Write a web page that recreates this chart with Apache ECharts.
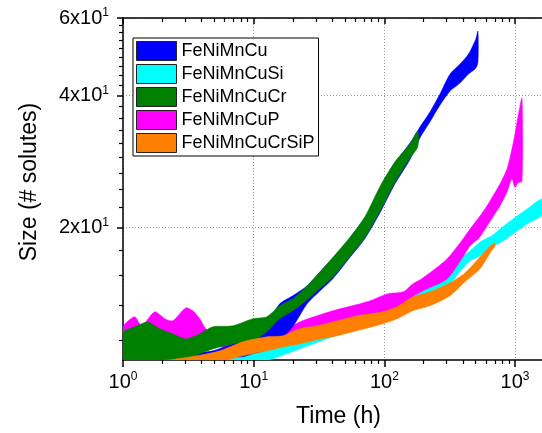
<!DOCTYPE html>
<html><head><meta charset="utf-8">
<script src="https://cdn.jsdelivr.net/npm/echarts@6/dist/echarts.min.js"></script>
<style>html,body{margin:0;padding:0;background:#fff}#c{width:542px;height:433px}</style>
</head><body><div id="c"></div>
<script>
// ---- data (time in h, size in # solutes; bands = lower/upper) ----
const legendNames = ['FeNiMnCu', 'FeNiMnCuSi', 'FeNiMnCuCr', 'FeNiMnCuP', 'FeNiMnCuCrSiP'];

const blueT  = [1, 1.55, 1.91, 2.40, 3.02, 3.87, 4.86, 6.92, 8.26, 9.84, 12.6, 15.8, 19.9, 25.5, 32.1, 40.3, 54.4, 71.0, 92.4, 120, 157, 187, 223, 266, 318, 379, 440, 500, 520];
const blueHi = [10.17, 10.27, 10.22, 10.0, 10.22, 10.38, 10.49, 10.88, 11.06, 11.29, 12.09, 13.42, 14.0, 14.74, 15.86, 17.07, 18.96, 21.05, 24.5, 28.07, 31.15, 33.88, 36.65, 40.27, 44.72, 47.12, 49.66, 53.7, 56.0];
const blueLo = [9.7, 9.7, 9.7, 9.7, 9.7, 9.9, 10.06, 10.17, 10.17, 10.33, 10.55, 11.06, 11.9, 13.4, 14.35, 15.3, 17.1, 18.9, 21.6, 25.1, 28.6, 32.0, 34.8, 38.0, 40.9, 42.66, 44.72, 46.1, 47.62];

const cyanT  = [5.5, 6.92, 9.84, 12.6, 22.5, 40.3, 71.0, 120, 165, 223, 318, 379, 452, 539, 677, 766, 964, 1233, 1607];
const cyanHi = [9.8, 10.17, 10.6, 10.88, 11.65, 12.4, 13.2, 13.9, 14.2, 14.8, 15.7, 17.0, 17.71, 18.56, 19.26, 19.87, 20.94, 22.06, 23.25];
const cyanLo = [9.6, 9.7, 9.8, 9.96, 10.6, 11.29, 12.09, 12.8, 13.5, 14.0, 14.9, 15.9, 16.81, 17.25, 18.18, 18.47, 19.36, 20.4, 21.38];

const greenT  = [1, 1.23, 1.55, 1.91, 2.40, 3.02, 3.87, 4.86, 6.92, 9.84, 12.6, 15.8, 19.9, 25.5, 32.1, 40.3, 54.4, 71.0, 92.4, 120, 157, 180];
const greenHi = [11.53, 11.90, 12.21, 11.78, 11.47, 11.17, 11.47, 11.90, 11.96, 12.41, 12.54, 13.28, 13.78, 14.7, 15.85, 17.1, 19.0, 21.2, 24.8, 28.2, 31.0, 33.17];
const greenLo = [9.7, 9.7, 9.7, 9.7, 9.7, 9.96, 10.33, 10.6, 10.88, 11.06, 11.59, 12.41, 12.94, 13.7, 14.55, 15.45, 17.2, 19.0, 21.8, 25.3, 28.8, 30.51];

const magentaT  = [1, 1.23, 1.39, 1.75, 2.09, 2.40, 3.02, 3.42, 3.87, 4.30, 4.86, 6.92, 9.84, 13.8, 17.3, 22.5, 40.3, 73.5, 105, 139, 165, 197, 301, 399, 452, 539, 609, 677, 766, 867, 946, 998, 1052, 1130];
const magentaHi = [11.9, 12.54, 11.96, 12.87, 12.41, 12.28, 13.14, 12.94, 12.41, 11.78, 11.53, 11.41, 11.17, 11.17, 11.65, 12.21, 12.94, 13.56, 14.14, 14.29, 14.9, 15.37, 16.98, 18.86, 19.87, 21.27, 22.41, 23.62, 25.15, 27.2, 30.2, 32.66, 35.7, 39.45];
const magentaLo = [11.0, 11.0, 11.0, 11.0, 11.0, 11.0, 11.0, 11.0, 11.0, 10.9, 10.8, 10.6, 10.55, 10.6, 10.88, 11.35, 11.9, 12.41, 12.87, 13.21, 13.92, 14.37, 15.29, 17.16, 18.18, 19.06, 20.18, 21.16, 22.41, 24.11, 25.82, 24.69, 25.28, 25.55];

const orangeT  = [1, 1.91, 3.87, 5.5, 8.26, 12.6, 16.7, 22.5, 30.4, 40.3, 61.5, 97.4, 125, 165, 223, 318, 413, 539, 643, 702];
const orangeHi = [9.95, 9.95, 10.25, 10.49, 11.0, 11.29, 11.35, 11.78, 11.96, 12.21, 12.6, 12.87, 13.21, 13.92, 14.29, 14.98, 15.78, 17.16, 18.18, 18.47];
const orangeLo = [9.7, 9.7, 9.8, 9.9, 10.22, 10.49, 10.71, 10.88, 11.12, 11.29, 11.65, 12.09, 12.41, 12.94, 13.28, 14.0, 15.06, 16.12, 17.52, 18.18];

// ---- axis ticks ----
const xMajorTicks = [1, 10, 100, 1000];
const xMinorTicks = [2, 3, 4, 5, 6, 7, 8, 9, 20, 30, 40, 50, 60, 70, 80, 90, 200, 300, 400, 500, 600, 700, 800, 900];
const yMajorTicks = [20, 40, 60];
const yMinorTicks = [11.11, 13.33, 15.56, 17.78, 22.22, 24.44, 26.67, 28.89, 31.11, 33.33, 35.56, 37.78, 42.22, 44.44, 46.67, 48.89, 51.11, 53.33, 55.56, 57.78];

const X_MIN = 1, X_MAX = 1607, Y_MIN = 10, Y_MAX = 60;
const FONT = "'Liberation Sans', Arial, sans-serif";
const BLACK = '#000';

function band(name, color, tArr, loArr, hiArr) {
  return {
    type: 'custom', name: name, coordinateSystem: 'cartesian2d',
    xAxisIndex: 0, yAxisIndex: 0, clip: true, silent: true,
    itemStyle: { color: color },
    data: [[tArr[0], hiArr[0]]],
    encode: { x: 0, y: 1 },
    renderItem: function (params, api) {
      const pts = [];
      for (let i = 0; i < tArr.length; i++) pts.push(api.coord([tArr[i], hiArr[i]]));
      for (let i = tArr.length - 1; i >= 0; i--) pts.push(api.coord([tArr[i], loArr[i]]));
      return { type: 'polygon', shape: { points: pts, smooth: 0.25 }, style: { fill: color, stroke: color, lineWidth: 0.5 } };
    }
  };
}

const colors = { FeNiMnCu: '#0000FF', FeNiMnCuSi: '#00FFFF', FeNiMnCuCr: '#008000', FeNiMnCuP: '#FF00FF', FeNiMnCuCrSiP: '#FF8000' };

const gridLine = { show: true, lineStyle: { color: '#9a9a9a', type: [1, 2], width: 1 } };
const labelRich = {
  b: { fontSize: 20, fontFamily: FONT, color: BLACK, lineHeight: 22 },
  s: { fontSize: 12, fontFamily: FONT, color: BLACK, lineHeight: 12, verticalAlign: 'top' }
};

const chart = echarts.init(document.getElementById('c'), null, { renderer: 'canvas' });
chart.setOption({
  animation: false,
  backgroundColor: '#fff',
  grid: { left: 123, right: 0, top: 18, bottom: 71, containLabel: false },
  legend: {
    orient: 'vertical', left: 133, top: 38, padding: [3, 4, 3, 3], itemGap: 3,
    itemWidth: 40, itemHeight: 19, icon: 'rect', backgroundColor: '#fff',
    borderColor: BLACK, borderWidth: 1, selectedMode: false,
    textStyle: { fontSize: 18, lineHeight: 19, color: BLACK, fontFamily: FONT },
    itemStyle: { borderColor: '#222', borderWidth: 1 },
    data: legendNames
  },
  xAxis: [
    { type: 'log', min: X_MIN, max: X_MAX, position: 'bottom',
      axisLine: { show: true, lineStyle: { color: BLACK, width: 1.5 } },
      axisTick: { show: true, customValues: xMajorTicks, length: 7, lineStyle: { color: BLACK, width: 1.5 } },
      axisLabel: { customValues: xMajorTicks, margin: 11, rich: labelRich,
        formatter: function (v) { return '{b|10}{s|' + Math.round(Math.log10(v)) + '}'; } },
      splitLine: gridLine,
      name: 'Time (h)', nameLocation: 'middle', nameGap: 45,
      nameTextStyle: { fontSize: 23, color: BLACK, fontFamily: FONT, padding: [0, 0, 0, 12] } },
    { type: 'log', min: X_MIN, max: X_MAX, position: 'bottom',
      axisLine: { show: false }, axisLabel: { show: false }, splitLine: { show: false },
      axisTick: { show: true, customValues: xMinorTicks, length: 4, lineStyle: { color: BLACK, width: 1.2 } } },
    { type: 'log', min: X_MIN, max: X_MAX, position: 'top',
      axisLine: { show: true, lineStyle: { color: BLACK, width: 1.5 } }, axisLabel: { show: false }, splitLine: { show: false },
      axisTick: { show: true, inside: true, customValues: xMajorTicks, length: 6, lineStyle: { color: BLACK, width: 1.5 } } },
    { type: 'log', min: X_MIN, max: X_MAX, position: 'top',
      axisLine: { show: false }, axisLabel: { show: false }, splitLine: { show: false },
      axisTick: { show: true, inside: true, customValues: xMinorTicks, length: 4, lineStyle: { color: BLACK, width: 1.2 } } }
  ],
  yAxis: [
    { type: 'log', min: Y_MIN, max: Y_MAX, position: 'left',
      axisLine: { show: true, lineStyle: { color: BLACK, width: 1.5 } },
      axisTick: { show: true, customValues: yMajorTicks, length: 6, lineStyle: { color: BLACK, width: 1.5 } },
      axisLabel: { customValues: yMajorTicks, margin: 14, rich: labelRich,
        formatter: function (v) { return '{b|' + Math.round(v / 10) + 'x10}{s|1}'; } },
      splitLine: gridLine,
      name: 'Size (# solutes)', nameLocation: 'middle', nameGap: 82, nameRotate: 90,
      nameTextStyle: { fontSize: 23, color: BLACK, fontFamily: FONT, padding: [0, 0, 0, 14] } },
    { type: 'log', min: Y_MIN, max: Y_MAX, position: 'left',
      axisLine: { show: false }, axisLabel: { show: false }, splitLine: { show: false },
      axisTick: { show: true, customValues: yMinorTicks, length: 4, lineStyle: { color: BLACK, width: 1.2 } } }
  ],
  series: [
    band('FeNiMnCuSi', colors.FeNiMnCuSi, cyanT, cyanLo, cyanHi),
    band('FeNiMnCuP', colors.FeNiMnCuP, magentaT, magentaLo, magentaHi),
    band('FeNiMnCu', colors.FeNiMnCu, blueT, blueLo, blueHi),
    band('FeNiMnCuCr', colors.FeNiMnCuCr, greenT, greenLo, greenHi),
    band('FeNiMnCuCrSiP', colors.FeNiMnCuCrSiP, orangeT, orangeLo, orangeHi)
  ]
});
</script></body></html>
